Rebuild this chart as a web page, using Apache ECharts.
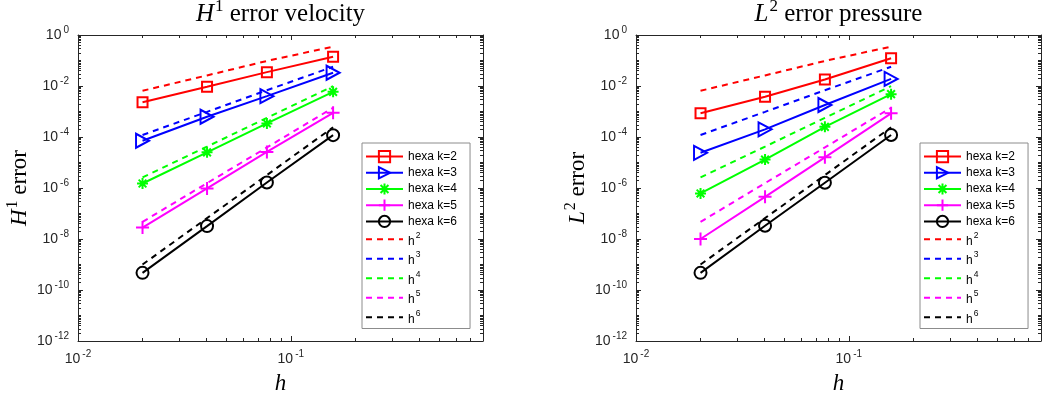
<!DOCTYPE html>
<html>
<head>
<meta charset="utf-8">
<script src="https://cdn.jsdelivr.net/npm/echarts@6/dist/echarts.min.js"></script>
<style>
  html, body { margin: 0; padding: 0; background: #ffffff; }
  #chart { width: 1043px; height: 396px; }
</style>
</head>
<body>
<div id="chart"></div>
<script>
// Mesh sizes h
const hValues = [0.0201, 0.0404, 0.0772, 0.158];

// H1 velocity errors, polynomial degree k = 2..6
const velK2 = [2.3e-3, 9.3e-3, 3.5e-2, 1.4e-1];
const velK3 = [7.1e-5, 6.2e-4, 4.0e-3, 3.3e-2];
const velK4 = [1.5e-6, 2.5e-5, 3.4e-4, 5.9e-3];
const velK5 = [2.8e-8, 9.6e-7, 2.6e-5, 8.9e-4];
const velK6 = [4.7e-10, 3.2e-8, 1.65e-6, 1.18e-4];

// L2 pressure errors, polynomial degree k = 2..6
const presK2 = [8.5e-4, 3.8e-3, 1.8e-2, 1.22e-1];
const presK3 = [2.4e-5, 2.0e-4, 1.8e-3, 1.9e-2];
const presK4 = [6.1e-7, 1.3e-5, 2.5e-4, 4.8e-3];
const presK5 = [1.0e-8, 4.5e-7, 1.6e-5, 8.5e-4];
const presK6 = [4.7e-10, 3.3e-8, 1.6e-6, 1.2e-4];

// Reference slopes h^2 .. h^6
const refH2 = [6.5e-3, 2.6e-2, 9.6e-2, 3.5e-1];
const refH3 = [1.2e-4, 9.7e-4, 6.8e-3, 5.7e-2];
const refH4 = [2.6e-6, 4.2e-5, 5.6e-4, 9.9e-3];
const refH5 = [4.7e-8, 1.55e-6, 3.9e-5, 1.4e-3];
const refH6 = [1.0e-9, 6.6e-8, 3.2e-6, 2.4e-4];

const seriesNames = ['hexa k=2', 'hexa k=3', 'hexa k=4', 'hexa k=5', 'hexa k=6'];
const refNames = ['h^2', 'h^3', 'h^4', 'h^5', 'h^6'];
const seriesColors = ['#ff0000', '#0000ff', '#00ff00', '#ff00ff', '#000000'];

// Axis ranges and tick positions (in h / error units)
const xRange = [0.01, 0.8];
const yRange = [1e-12, 1];
const xMajorTicks = [0.01, 0.1];
const yMajorTicks = [1e-12, 1e-10, 1e-8, 1e-6, 1e-4, 1e-2, 1];

const lg = Math.log10;
const axisColor = '#262626';
const sans = "'Liberation Sans', Arial, sans-serif";
const serif = "'Liberation Serif', 'Times New Roman', serif";

// log-spaced minor ticks between decades
function minorTicks(lo, hi, majors) {
  const out = [];
  const majorSet = majors.map(v => lg(v).toFixed(6));
  for (let e = Math.floor(lg(lo)); e < Math.ceil(lg(hi)); e++) {
    for (let m = 1; m <= 9; m++) {
      const v = lg(m * Math.pow(10, e));
      if (v <= lg(lo) + 1e-9 || v >= lg(hi) - 1e-9) continue;
      if (majorSet.indexOf(v.toFixed(6)) >= 0) continue;
      out.push(v);
    }
  }
  return out;
}
const xMinor = minorTicks(xRange[0], xRange[1], xMajorTicks);
const yMinor = minorTicks(yRange[0], yRange[1], yMajorTicks);

const markerDefs = [
  { symbol: 'rect', size: 10 },
  { symbol: 'path://M0,0L10,5L0,10Z', size: [13, 14] },
  { symbol: 'path://M5,0L5,10M0,5L10,5M1.5,1.5L8.5,8.5M1.5,8.5L8.5,1.5', size: 11 },
  { symbol: 'path://M5,0L5,10M0,5L10,5', size: 13 },
  { symbol: 'circle', size: 12 }
];

const tickLabelRich = {
  b: { fontFamily: sans, fontSize: 14, color: axisColor, lineHeight: 19, verticalAlign: 'bottom', padding: [0, 0, 2, 0] },
  s: { fontFamily: sans, fontSize: 10, color: axisColor, lineHeight: 19, verticalAlign: 'top', padding: [0, 0, 0, 2] }
};
const tickFormatter = v => '{b|10}{s|' + Math.round(v) + '}';

function nameRich(size) {
  const lh = Math.round(size * 1.15);
  return {
    r: { fontFamily: serif, fontSize: size, color: '#000', lineHeight: lh, verticalAlign: 'bottom' },
    i: { fontFamily: serif, fontSize: size, fontStyle: 'italic', color: '#000', lineHeight: lh, verticalAlign: 'bottom' },
    s: { fontFamily: serif, fontSize: Math.round(size * 0.68), color: '#000', lineHeight: lh, verticalAlign: 'top', padding: [0, 0, 0, 1] }
  };
}

function xAxes(grid, title) {
  const range = { min: lg(xRange[0]), max: lg(xRange[1]) };
  const majors = xMajorTicks.map(lg);
  const line = { onZero: false, lineStyle: { color: axisColor, width: 1 } };
  const base = Object.assign({ gridIndex: grid, type: 'value', splitLine: { show: false } }, range);
  return [
    Object.assign({}, base, {
      position: 'bottom',
      axisLine: line,
      axisTick: { inside: true, length: 5, customValues: majors, lineStyle: { color: axisColor } },
      axisLabel: { customValues: majors, formatter: tickFormatter, rich: tickLabelRich, margin: 8 },
      name: '{i|h}', nameLocation: 'middle', nameGap: 27,
      nameTextStyle: { rich: nameRich(23) }
    }),
    Object.assign({}, base, {
      position: 'bottom',
      axisLine: { show: false, onZero: false },
      axisTick: { inside: true, length: 3, customValues: xMinor, lineStyle: { color: axisColor } },
      axisLabel: { show: false }
    }),
    Object.assign({}, base, {
      position: 'top',
      axisLine: line,
      axisTick: { inside: true, length: 5, customValues: majors, lineStyle: { color: axisColor } },
      axisLabel: { show: false },
      name: title, nameLocation: 'middle', nameGap: 8,
      nameTextStyle: { rich: nameRich(25) }
    }),
    Object.assign({}, base, {
      position: 'top',
      axisLine: { show: false, onZero: false },
      axisTick: { inside: true, length: 3, customValues: xMinor, lineStyle: { color: axisColor } },
      axisLabel: { show: false }
    })
  ];
}

function yAxes(grid, yName) {
  const range = { min: lg(yRange[0]), max: lg(yRange[1]) };
  const majors = yMajorTicks.map(lg);
  const line = { onZero: false, lineStyle: { color: axisColor, width: 1 } };
  const base = Object.assign({ gridIndex: grid, type: 'value', splitLine: { show: false } }, range);
  return [
    Object.assign({}, base, {
      position: 'left',
      axisLine: line,
      axisTick: { inside: true, length: 5, customValues: majors, lineStyle: { color: axisColor } },
      axisLabel: { customValues: majors, formatter: tickFormatter, rich: tickLabelRich, margin: 9 },
      name: yName, nameLocation: 'middle', nameRotate: 90, nameGap: 47,
      nameTextStyle: { rich: nameRich(23) }
    }),
    Object.assign({}, base, {
      position: 'left',
      axisLine: { show: false, onZero: false },
      axisTick: { inside: true, length: 3, customValues: yMinor, lineStyle: { color: axisColor } },
      axisLabel: { show: false }
    }),
    Object.assign({}, base, {
      position: 'right',
      axisLine: line,
      axisTick: { inside: true, length: 5, customValues: majors, lineStyle: { color: axisColor } },
      axisLabel: { show: false }
    }),
    Object.assign({}, base, {
      position: 'right',
      axisLine: { show: false, onZero: false },
      axisTick: { inside: true, length: 3, customValues: yMinor, lineStyle: { color: axisColor } },
      axisLabel: { show: false }
    })
  ];
}

function panelSeries(grid, errorSets) {
  const out = [];
  errorSets.forEach((vals, k) => {
    out.push({
      type: 'line',
      name: seriesNames[k],
      xAxisIndex: grid * 4, yAxisIndex: grid * 4,
      data: hValues.map((h, i) => [lg(h), lg(vals[i])]),
      symbol: markerDefs[k].symbol,
      symbolSize: markerDefs[k].size,
      showSymbol: true,
      lineStyle: { color: seriesColors[k], width: 2 },
      itemStyle: { color: 'rgba(0,0,0,0)', borderColor: seriesColors[k], borderWidth: 2 },
      emphasis: { disabled: true },
      z: 3
    });
  });
  [refH2, refH3, refH4, refH5, refH6].forEach((vals, k) => {
    out.push({
      type: 'line',
      name: refNames[k],
      xAxisIndex: grid * 4, yAxisIndex: grid * 4,
      data: hValues.map((h, i) => [lg(h), lg(vals[i])]),
      symbol: 'none',
      lineStyle: { color: seriesColors[k], width: 2, type: [6, 5] },
      itemStyle: { color: seriesColors[k] },
      emphasis: { disabled: true },
      z: 4
    });
  });
  return out;
}

function legendFor(grid, left) {
  return {
    orient: 'vertical',
    left: left, top: 143,
    padding: [7, 13, 3, 3],
    itemGap: 3,
    itemWidth: 37,
    itemHeight: 14,
    backgroundColor: '#ffffff',
    borderColor: '#8c8c8c',
    borderWidth: 1,
    borderRadius: 0,
    selectedMode: false,
    data: seriesNames.map(n => ({ name: n })).concat(refNames.map(n => ({ name: n, itemStyle: { opacity: 0 } }))),
    formatter: name => name.indexOf('h^') === 0 ? '{h|h}{s|' + name.slice(2) + '}' : '{t|' + name + '}',
    textStyle: {
      rich: {
        t: { fontFamily: sans, fontSize: 12, color: '#000', lineHeight: 14 },
        h: { fontFamily: sans, fontSize: 12, color: '#000', lineHeight: 16.5, verticalAlign: 'bottom' },
        s: { fontFamily: sans, fontSize: 8.5, color: '#000', lineHeight: 16.5, verticalAlign: 'top', padding: [0, 0, 0, 1] }
      }
    }
  };
}

const chart = echarts.init(document.getElementById('chart'), null, { renderer: 'canvas' });
chart.setOption({
  animation: false,
  backgroundColor: '#ffffff',
  grid: [
    { left: 78, top: 35, width: 405, height: 306, containLabel: false, outerBoundsMode: 'none' },
    { left: 636, top: 35, width: 405, height: 306, containLabel: false, outerBoundsMode: 'none' }
  ],
  xAxis: xAxes(0, '{i|H}{s|1}{r| error velocity}').concat(xAxes(1, '{i|L}{s|2}{r| error pressure}')),
  yAxis: yAxes(0, '{i|H}{s|1}{r| error}').concat(yAxes(1, '{i|L}{s|2}{r| error}')),
  legend: [legendFor(0, 362), legendFor(1, 920)],
  series: panelSeries(0, [velK2, velK3, velK4, velK5, velK6])
    .concat(panelSeries(1, [presK2, presK3, presK4, presK5, presK6]))
});
</script>
</body>
</html>
